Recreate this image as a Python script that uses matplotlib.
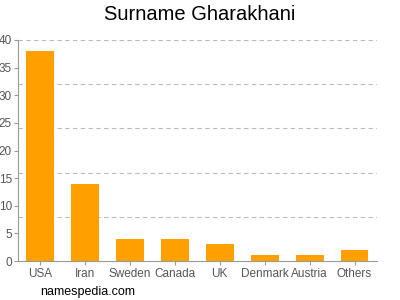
import matplotlib.pyplot as plt

plt.rcParams["font.family"] = ["Liberation Sans", "DejaVu Sans"]

countries = ["USA", "Iran", "Sweden", "Canada", "UK", "Denmark", "Austria", "Others"]
counts = [38, 14, 4, 4, 3, 1, 1, 2]
yticks = [0, 5, 10, 15, 20, 25, 30, 35, 40]
gridlines = [8, 16, 24, 32, 40]

fig = plt.figure(figsize=(4, 3), dpi=100)
ax = fig.add_axes([17.5 / 400, 39 / 300, 359.5 / 400, 221 / 300])

ax.bar(range(len(countries)), counts, width=0.62, color="#FFA000", zorder=2)
for g in gridlines:
    ax.axhline(g, color="#bbbbbb", linestyle=(0, (4, 3)), linewidth=0.8, zorder=1)

ax.set_xlim(-0.5, 7.5)
ax.set_ylim(0, 40)
ax.set_yticks(yticks)
ax.set_xticks(range(len(countries)))
ax.set_xticklabels(countries)

for side in ["top", "right"]:
    ax.spines[side].set_visible(False)
for side in ["left", "bottom"]:
    ax.spines[side].set_color("#999999")
ax.tick_params(colors="#999999", labelcolor="#555555", labelsize=8.5, length=3, width=0.8)
ax.tick_params(axis="y", pad=1)
ax.tick_params(axis="x", pad=2)

fig.text(0.5, 0.95, "Surname Gharakhani", ha="center", va="center", fontsize=14.5)
fig.text(40 / 400, 0.027, "namespedia.com", ha="left", va="center", fontsize=9)

plt.savefig("out.png", dpi=100)
